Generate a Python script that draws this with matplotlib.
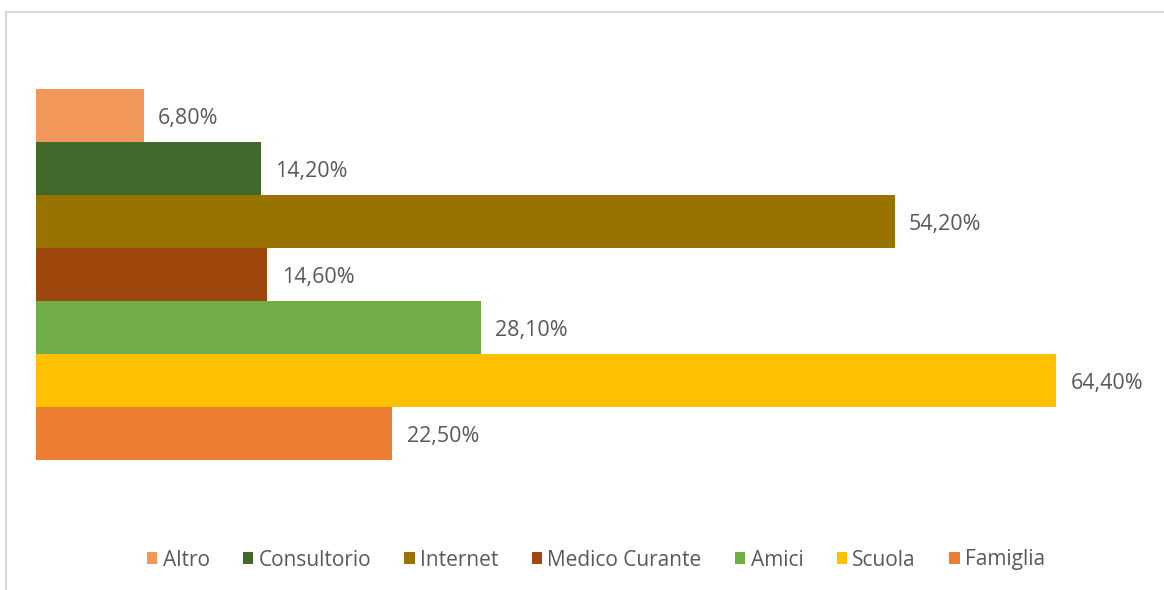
import matplotlib.pyplot as plt
from matplotlib.lines import Line2D

plt.rcParams['font.family'] = ['Open Sans', 'DejaVu Sans']

categories = ['Altro', 'Consultorio', 'Internet', 'Medico Curante', 'Amici', 'Scuola', 'Famiglia']
values = [6.8, 14.2, 54.2, 14.6, 28.1, 64.4, 22.5]
labels = ['6,80%', '14,20%', '54,20%', '14,60%', '28,10%', '64,40%', '22,50%']
colors = ['#F1975A', '#43682B', '#997300', '#9E480E', '#70AD47', '#FFC000', '#ED7D31']

W, H = 1164, 590
fig = plt.figure(figsize=(W / 100, H / 100), dpi=100)
ax = fig.add_axes([36 / W, 1 - 460 / H, (1145 - 36) / W, (460 - 89) / H])

for i, (cat, val, lab, col) in enumerate(zip(categories, values, labels, colors)):
    ax.barh(i, val, height=1.0, color=col, label=cat)
    ax.text(val + 0.9, i + 0.06, lab, va='center', ha='left', fontsize=15.5, color='#595959')

ax.set_xlim(0, 70)
ax.set_ylim(len(categories) - 0.5, -0.5)
ax.axis('off')

leg = fig.legend(loc='center', bbox_to_anchor=(596 / W, 1 - 560 / H), ncol=7, frameon=False,
                 fontsize=15, handlelength=0.5, handleheight=0.5, handletextpad=0.25,
                 columnspacing=1.6, labelcolor='#595959')

# thin chart-area frame
fig.add_artist(Line2D([6 / W, 1], [1 - 12 / H, 1 - 12 / H], color='#D9D9D9', lw=1.5))
fig.add_artist(Line2D([6 / W, 6 / W], [0, 1 - 12 / H], color='#D9D9D9', lw=1.5))

fig.savefig('out.png', dpi=100, facecolor='white')
